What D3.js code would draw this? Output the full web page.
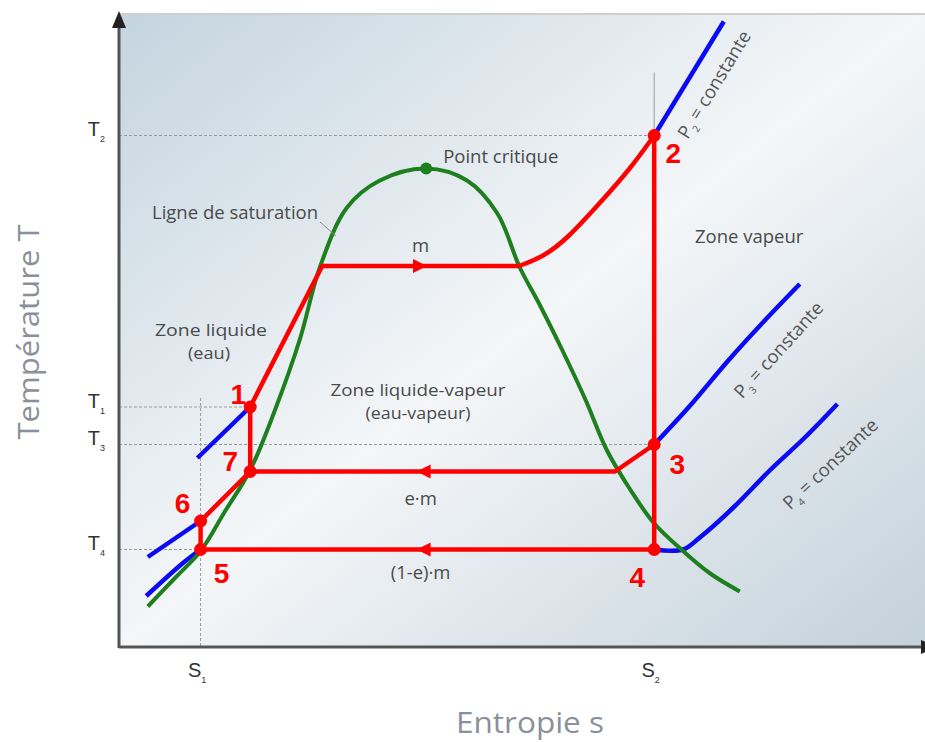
<!DOCTYPE html>
<html>
<head>
<meta charset="utf-8">
<script src="https://cdn.jsdelivr.net/npm/d3@7"></script>
<style>
  html, body { margin: 0; padding: 0; background: #fff; }
  svg { display: block; font-family: "Open Sans", sans-serif; }
</style>
</head>
<body>
<svg id="chart" width="925" height="742"></svg>
<script>
// ---- Data: s in entropy units (0..10), T in temperature units (0..400) ----
const tTickNames = ["2", "1", "3", "4"];
const tTickValues = [341, 160, 135, 65];
const sTickNames = ["1", "2"];
const sTickValues = [1.02, 6.69];

const cycleLabels = ["1", "2", "3", "4", "5", "6", "7"];
const cycleS = [1.64, 6.69, 6.69, 6.69, 1.02, 1.02, 1.64];
const cycleT = [160, 341, 135, 65, 65, 84, 117];

const criticalPoint = [3.84, 319];

// saturation dome (ligne de saturation)
const saturationLine = [
  [0.36, 27], [0.70, 46], [1.02, 64], [1.32, 90], [1.64, 118], [1.95, 158],
  [2.26, 205], [2.51, 253], [2.85, 293], [3.26, 311], [3.84, 319], [4.35, 311],
  [4.73, 289], [5.01, 253], [5.26, 228], [5.54, 198], [5.83, 165], [6.10, 131],
  [6.39, 105], [6.68, 83], [7.05, 64], [7.39, 49], [7.76, 37]
];

// red cycle pieces
const heating = [[1.64, 160], [2.54, 254], [5.00, 254]];
const superheat = [[5.00, 254], [5.30, 260], [5.60, 272], [6.01, 296], [6.38, 318], [6.69, 341]];
const turbine = [[6.69, 341], [6.69, 65]];
const extraction = [[6.69, 135], [6.20, 117], [1.64, 117]];
const condenser = [[6.69, 65], [1.02, 65]];
const feedPumps = [[1.02, 65], [1.02, 84], [1.64, 117], [1.64, 160]];

// flow direction arrows
const flowS = [3.85, 3.72, 3.72];
const flowT = [254, 117, 65];
const flowDir = [1, -1, -1];

// isobars (blue)
const isobarP2 = [[6.69, 341], [7.56, 417]];
const isobarP3 = [[6.69, 135], [7.14, 161], [7.60, 190], [8.06, 217], [8.51, 242]];
const isobarP4 = [[6.69, 65], [7.05, 65], [7.26, 73], [7.68, 93], [8.14, 118], [8.58, 140], [8.98, 162]];
const isobarLiq1 = [[0.98, 126], [1.60, 158]];
const isobarLiq2 = [[0.36, 60], [1.02, 84]];
const isobarLiq3 = [[0.34, 34], [0.80, 56], [1.02, 65]];

const isobarNames = ["2", "3", "4"];
const isobarLabelS = [7.11, 7.79, 8.39];
const isobarLabelT = [338, 165, 91];

// ---- Scales ----
const x = d3.scaleLinear().domain([0, 10]).range([119, 919]);
const y = d3.scaleLinear().domain([0, 400]).range([647, 47]);

const svg = d3.select("#chart");
const RED = "#ff0000", BLUE = "#0a0af5", GREEN = "#1d7f1d";

// ---- Background panel ----
const defs = svg.append("defs");
const grad = defs.append("linearGradient").attr("id", "bg")
  .attr("x1", 0).attr("y1", 0).attr("x2", 1).attr("y2", 1);
grad.append("stop").attr("offset", 0).attr("stop-color", "#c4d4df");
grad.append("stop").attr("offset", 0.5).attr("stop-color", "#f4f6f8");
grad.append("stop").attr("offset", 1).attr("stop-color", "#c3d1db");

svg.append("rect").attr("x", 120).attr("y", 14).attr("width", 805).attr("height", 633)
  .attr("fill", "url(#bg)");
svg.append("line").attr("x1", 120).attr("x2", 925).attr("y1", 14).attr("y2", 14)
  .attr("stroke", "#cfcfcf").attr("stroke-width", 2);

// ---- Guide lines ----
const guide = svg.append("g").attr("stroke", "#9a9a9a").attr("stroke-width", 1)
  .attr("stroke-dasharray", "3,2");
guide.append("line").attr("x1", x(0)).attr("x2", x(sTickValues[1])).attr("y1", y(tTickValues[0])).attr("y2", y(tTickValues[0]));
guide.append("line").attr("x1", x(0)).attr("x2", x(cycleS[0])).attr("y1", y(tTickValues[1])).attr("y2", y(tTickValues[1]));
guide.append("line").attr("x1", x(0)).attr("x2", x(sTickValues[1])).attr("y1", y(tTickValues[2])).attr("y2", y(tTickValues[2]));
guide.append("line").attr("x1", x(0)).attr("x2", x(sTickValues[0])).attr("y1", y(tTickValues[3])).attr("y2", y(tTickValues[3]));
guide.append("line").attr("x1", x(sTickValues[0])).attr("x2", x(sTickValues[0])).attr("y1", y(166)).attr("y2", y(0));
svg.append("line").attr("x1", x(sTickValues[1])).attr("x2", x(sTickValues[1]))
  .attr("y1", y(383)).attr("y2", y(tTickValues[0]))
  .attr("stroke", "#9a9a9a").attr("stroke-width", 1);

// ---- Axes ----
const gy = svg.append("g").attr("transform", `translate(${x(0)},0)`)
  .call(d3.axisLeft(y).tickValues(tTickValues).tickSize(0).tickPadding(14).tickFormat(""));
gy.select(".domain").remove();
gy.selectAll(".tick text").attr("dy", 0).attr("fill", "#333").attr("font-size", 20)
  .each(function (d) {
    const t = d3.select(this);
    t.append("tspan").text("T");
    t.append("tspan").attr("dy", 6).attr("font-size", 9).text(tTickNames[tTickValues.indexOf(d)]);
  });

const gx = svg.append("g").attr("transform", `translate(0,${y(0)})`)
  .call(d3.axisBottom(x).tickValues(sTickValues).tickSize(0).tickPadding(30).tickFormat(""));
gx.select(".domain").remove();
gx.selectAll(".tick text").attr("dy", 0).attr("dx", -4).attr("fill", "#333").attr("font-size", 20)
  .each(function (d) {
    const t = d3.select(this);
    t.append("tspan").text("S");
    t.append("tspan").attr("dy", 6).attr("font-size", 9).text(sTickNames[sTickValues.indexOf(d)]);
  });

svg.append("line").attr("x1", x(0)).attr("x2", 925).attr("y1", y(0)).attr("y2", y(0))
  .attr("stroke", "#555").attr("stroke-width", 3);
svg.append("path").attr("d", `M938,${y(0)} L921,${y(0) - 7} L921,${y(0) + 7} Z`).attr("fill", "#222");
svg.append("line").attr("x1", x(0)).attr("x2", x(0)).attr("y1", y(0) + 1).attr("y2", 26)
  .attr("stroke", "#555").attr("stroke-width", 3);
svg.append("path").attr("d", `M${x(0)},11 L${x(0) - 7},28 L${x(0) + 7},28 Z`).attr("fill", "#222");

svg.append("text").attr("x", 530).attr("y", 733).attr("text-anchor", "middle")
  .attr("font-size", 30).attr("fill", "#8a9099")
  .attr("textLength", 148).attr("lengthAdjust", "spacingAndGlyphs")
  .text("Entropie s");
svg.append("text").attr("transform", "translate(39,332) rotate(-90)").attr("text-anchor", "middle")
  .attr("font-size", 30).attr("fill", "#8a9099")
  .attr("textLength", 215).attr("lengthAdjust", "spacingAndGlyphs")
  .text("Température T");

// ---- Curves ----
const line = d3.line().x(d => x(d[0])).y(d => y(d[1]));
const smooth = d3.line().x(d => x(d[0])).y(d => y(d[1])).curve(d3.curveCatmullRom.alpha(0.5));
const basis = d3.line().x(d => x(d[0])).y(d => y(d[1])).curve(d3.curveBasis);

function draw(data, gen, color, w) {
  svg.append("path").datum(data).attr("d", gen).attr("fill", "none")
    .attr("stroke", color).attr("stroke-width", w)
    .attr("stroke-linejoin", "round").attr("stroke-linecap", "butt");
}

[isobarP2, isobarP3, isobarP4, isobarLiq1, isobarLiq2, isobarLiq3]
  .forEach(d => draw(d, smooth, BLUE, 4.5));

draw(saturationLine, smooth, GREEN, 4);

[heating, turbine, extraction, condenser, feedPumps].forEach(d => draw(d, line, RED, 4.5));
draw(superheat, basis, RED, 4.5);

// flow arrows
svg.selectAll("path.flow").data(flowS).join("path").attr("class", "flow")
  .attr("d", (s, i) => {
    const tx = x(s), ty = y(flowT[i]), bx = tx - flowDir[i] * 14;
    return `M${tx},${ty} L${bx},${ty - 7} L${bx},${ty + 7} Z`;
  })
  .attr("fill", RED);

// cycle points
svg.selectAll("circle.state").data(cycleS).join("circle").attr("class", "state")
  .attr("cx", s => x(s)).attr("cy", (s, i) => y(cycleT[i])).attr("r", 6.5).attr("fill", RED);

svg.append("circle").attr("cx", x(criticalPoint[0])).attr("cy", y(criticalPoint[1]))
  .attr("r", 6).attr("fill", GREEN);

// state numbers
const numOffsets = [[-12, -3], [19, 27], [23, 29], [-17, 37], [21, 33], [-18, -8], [-20, -1]];
svg.selectAll("text.num").data(cycleLabels).join("text").attr("class", "num")
  .attr("x", (d, i) => x(cycleS[i]) + numOffsets[i][0])
  .attr("y", (d, i) => y(cycleT[i]) + numOffsets[i][1])
  .attr("text-anchor", "middle")
  .attr("font-family", "'Liberation Sans', Arial, sans-serif")
  .attr("font-weight", "bold").attr("font-size", 28).attr("fill", RED)
  .text(d => d);

// isobar labels
const isobars = [isobarP2, isobarP3, isobarP4];
isobarNames.forEach((name, i) => {
  const pts = isobars[i];
  const a = pts[i === 2 ? 1 : 0], b = pts[pts.length - 1];
  const ang = Math.atan2(y(b[1]) - y(a[1]), x(b[0]) - x(a[0])) * 180 / Math.PI;
  const t = svg.append("text")
    .attr("transform", `translate(${x(isobarLabelS[i])},${y(isobarLabelT[i])}) rotate(${ang})`)
    .attr("font-size", 18.5).attr("fill", "#555");
  t.append("tspan").text("P");
  t.append("tspan").attr("dy", 5).attr("font-size", 10).text(name);
  t.append("tspan").attr("dy", -5).text(" = constante");
});

// ---- Annotations ----
const notes = svg.append("g").attr("font-size", 18.5).attr("fill", "#4a4a4a");
function note(tx, ty, str, anchor, size, len) {
  const t = notes.append("text").attr("x", tx).attr("y", ty)
    .attr("text-anchor", anchor || "start").text(str);
  if (size) t.attr("font-size", size);
  if (len) t.attr("textLength", len).attr("lengthAdjust", "spacingAndGlyphs");
}
note(x(criticalPoint[0]) + 17, y(criticalPoint[1]) - 6, "Point critique");
note(152, 219, "Ligne de saturation");
note(x(3.77), 252, "m", "middle");
note(695, 243, "Zone vapeur");
note(211, 336, "Zone liquide", "middle", 16, 112);
note(209, 359, "(eau)", "middle", 16, 42);
note(418, 396, "Zone liquide-vapeur", "middle", 16, 175);
note(418, 419, "(eau-vapeur)", "middle", 16, 105);
note(x(3.77), 505, "e·m", "middle");
note(x(3.77), 579, "(1-e)·m", "middle");
svg.append("line").attr("x1", 320).attr("y1", 222).attr("x2", 336).attr("y2", 236)
  .attr("stroke", "#888").attr("stroke-width", 1);
</script>
</body>
</html>
